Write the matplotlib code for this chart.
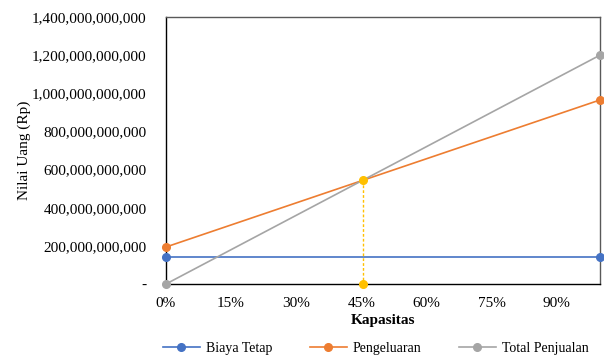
import matplotlib.pyplot as plt
from matplotlib.ticker import FuncFormatter, MultipleLocator

plt.rcParams['font.family'] = ['Liberation Serif', 'DejaVu Serif']

# kapasitas (fraction of full capacity)
kapasitas = [0.0, 1.0]
biaya_tetap = [143e9, 143e9]
pengeluaran = [194e9, 965e9]
total_penjualan = [0, 1200e9]

# break-even point
bep_x = [0.455, 0.455]
bep_y = [546e9, 0]

fig = plt.figure(figsize=(6.04, 3.6), dpi=100)
ax = fig.add_axes([0.2748, 0.2111, 0.7186, 0.7417])

ax.plot(kapasitas, biaya_tetap, color='#4472C4', lw=1.2, marker='o', ms=5.5,
        label='Biaya Tetap', clip_on=False, zorder=3)
ax.plot(kapasitas, pengeluaran, color='#ED7D31', lw=1.2, marker='o', ms=5.5,
        label='Pengeluaran', clip_on=False, zorder=3)
ax.plot(kapasitas, total_penjualan, color='#A5A5A5', lw=1.2, marker='o', ms=5.5,
        label='Total Penjualan', clip_on=False, zorder=3)
ax.plot(bep_x, bep_y, color='#FFC000', lw=1.0, ls=(0, (2, 1.5)), marker='o', ms=5.5,
        clip_on=False, zorder=4)

ax.set_xlim(0, 1)
ax.set_ylim(0, 1.4e12)
ax.xaxis.set_major_locator(MultipleLocator(0.15))
ax.yaxis.set_major_locator(MultipleLocator(2e11))
ax.xaxis.set_major_formatter(FuncFormatter(lambda v, p: '%d%%' % round(v * 100)))
ax.yaxis.set_major_formatter(FuncFormatter(lambda v, p: '-' if v == 0 else '{:,.0f}'.format(v)))
ax.tick_params(length=0, labelsize=11)
ax.tick_params(axis='y', pad=14)
ax.tick_params(axis='x', pad=9)

for s in ['top', 'right']:
    ax.spines[s].set_color('#595959')
for s in ['left', 'bottom']:
    ax.spines[s].set_color('black')
for s in ax.spines.values():
    s.set_linewidth(1.0)

ax.set_xlabel('Kapasitas', fontsize=11, fontweight='bold', labelpad=3)
ax.set_ylabel('Nilai Uang (Rp)', fontsize=11, labelpad=1)

fig.legend(loc='center', bbox_to_anchor=(0.622, 0.033), ncol=3, frameon=False,
           fontsize=10, handlelength=2.66, columnspacing=2.7, handletextpad=0.43)

fig.savefig('out.png', dpi=100)
